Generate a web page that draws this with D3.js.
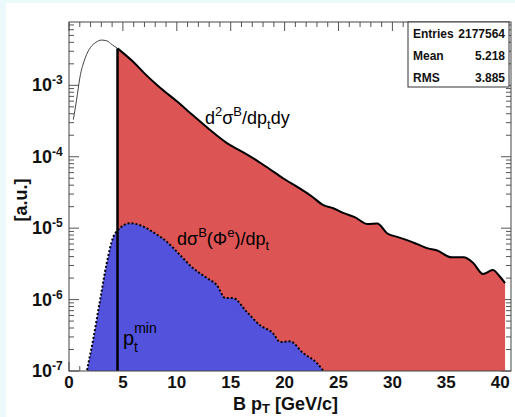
<!DOCTYPE html>
<html><head><meta charset="utf-8">
<script src="https://cdn.jsdelivr.net/npm/d3@7/dist/d3.min.js"></script>
<style>
html,body{margin:0;padding:0;background:#edfafc;}
svg{display:block;}
text{font-family:"Liberation Sans",Arial,Helvetica,sans-serif;}
</style></head>
<body>
<svg id="c" width="515" height="417"></svg>
<script>
// ---- data ----
const xTickValues = [0, 5, 10, 15, 20, 25, 30, 35, 40];
const yTickExponents = [-7, -6, -5, -4, -3];
const ptMin = 4.5;

// full spectrum (thin curve)
const fullX = [0.4, 0.7, 1.0, 1.5, 2.0, 2.5, 3.0, 3.5, 4.0, 4.5];
const fullY = [3.3e-4, 6.2e-4, 1.26e-3, 2.4e-3, 3.4e-3, 4.0e-3, 4.3e-3, 4.2e-3, 3.7e-3, 3.29e-3];

// d2sigma/dpt dy above pt_min (red)
const redX = [4.5, 6, 7, 8.4, 10, 11.5, 13, 14.65, 16, 17.4, 18.5, 19.85, 21.4, 22.5, 23.6, 24.5, 25.5, 26.5, 27.7, 28.6, 29.5, 30.5, 31.35, 32.3, 33.2, 34.1, 35.5, 36.6, 37.5, 38.4, 39.3, 40, 40.45];
const redY = [3.29e-3, 2.1e-3, 1.47e-3, 9.4e-4, 5.97e-4, 3.8e-4, 2.43e-4, 1.55e-4, 1.19e-4, 8.9e-5, 6.9e-5, 5.0e-5, 3.6e-5, 2.8e-5, 2.1e-5, 1.9e-5, 1.62e-5, 1.43e-5, 1.14e-5, 1.16e-5, 8.5e-6, 7.5e-6, 6.8e-6, 5.97e-6, 5.25e-6, 4.9e-6, 3.9e-6, 3.9e-6, 3.24e-6, 2.28e-6, 2.59e-6, 2.07e-6, 1.7e-6];

// dsigma(Phi^e)/dpt (blue)
const blueX = [1.5, 1.67, 2.23, 2.88, 3.5, 4.1, 4.55, 5.66, 6.6, 7.8, 9.1, 10.3, 11.5, 12.8, 13.7, 14.5, 15.2, 16.5, 17.7, 18.9, 19.6, 20.5, 21.7, 23.0, 23.6];
const blueY = [7e-8, 1.0e-7, 2.7e-7, 9.8e-7, 3.24e-6, 7.5e-6, 9.4e-6, 1.17e-5, 1.10e-5, 8.8e-6, 6.4e-6, 4.2e-6, 2.76e-6, 2.0e-6, 1.6e-6, 1.05e-6, 1.05e-6, 6.7e-7, 4.4e-7, 3.4e-7, 2.55e-7, 2.6e-7, 1.79e-7, 1.29e-7, 1.0e-7];

const statNames = ["Entries", "Mean", "RMS"];
const statValues = ["2177564", "5.218", "3.885"];

// ---- drawing ----
const svg = d3.select("#c");
const L = 69, R = 511, T = 22, B = 371;
const x = d3.scaleLinear().domain([0, 41]).range([L, R]);
const y = d3.scaleLog().domain([1e-7, 7.7e-3]).range([B, T]);

svg.append("rect").attr("x", 6).attr("y", 3).attr("width", 509).attr("height", 414).attr("fill", "#ffffff");
svg.append("defs").append("clipPath").attr("id", "clip")
  .append("rect").attr("x", L).attr("y", T).attr("width", R - L).attr("height", B - T);

const tickCol = "#555";
// x ticks (top and bottom)
const xMinor = d3.range(0, 41, 1);
const g = svg.append("g");
xMinor.forEach(v => {
  const len = (v % 5 === 0) ? 9 : 5;
  g.append("line").attr("x1", x(v)).attr("x2", x(v)).attr("y1", T).attr("y2", T + len).attr("stroke", tickCol);
  g.append("line").attr("x1", x(v)).attr("x2", x(v)).attr("y1", B).attr("y2", B - len).attr("stroke", tickCol);
});
// y ticks (left and right)
const yMinor = [];
for (let e = -7; e <= -3; e++) for (let m = 1; m <= 9; m++) { const v = m * Math.pow(10, e); if (v <= 7.7e-3) yMinor.push({v, major: m === 1}); }
yMinor.forEach(t => {
  const len = t.major ? 10 : 5;
  g.append("line").attr("x1", L).attr("x2", L + len).attr("y1", y(t.v)).attr("y2", y(t.v)).attr("stroke", tickCol);
  g.append("line").attr("x1", R).attr("x2", R - len).attr("y1", y(t.v)).attr("y2", y(t.v)).attr("stroke", tickCol);
});

const plot = svg.append("g").attr("clip-path", "url(#clip)");
const full = fullX.map((v, i) => [v, fullY[i]]);
const red = redX.map((v, i) => [v, redY[i]]);
const blue = blueX.map((v, i) => [v, blueY[i]]);

const line = d3.line().x(d => x(d[0])).y(d => y(d[1])).curve(d3.curveMonotoneX);
const area = d3.area().x(d => x(d[0])).y0(B).y1(d => y(d[1])).curve(d3.curveMonotoneX);

plot.append("path").datum(full).attr("d", line).attr("fill", "none").attr("stroke", "#444").attr("stroke-width", 1);
plot.append("path").datum(red).attr("d", area).attr("fill", "#dd5454");
plot.append("path").datum(blue).attr("d", area).attr("fill", "#5252dd");
plot.append("path").datum(red).attr("d", line).attr("fill", "none").attr("stroke", "#000").attr("stroke-width", 2);
plot.append("path").datum(blue).attr("d", line).attr("fill", "none").attr("stroke", "#000").attr("stroke-width", 2).attr("stroke-dasharray", "2,2");
plot.append("line").attr("x1", x(ptMin)).attr("x2", x(ptMin)).attr("y1", y(redY[0])).attr("y2", B).attr("stroke", "#000").attr("stroke-width", 2.5);

// frame
svg.append("rect").attr("x", L).attr("y", T).attr("width", R - L).attr("height", B - T)
  .attr("fill", "none").attr("stroke", "#444").attr("stroke-width", 1);

// x labels
svg.append("g").selectAll("text").data(xTickValues).join("text")
  .attr("x", d => x(d)).attr("y", 388).attr("text-anchor", "middle")
  .attr("font-weight", "bold").attr("font-size", 17).attr("fill", "#111").text(d => d);
// y labels
const yl = svg.append("g").selectAll("text").data(yTickExponents).join("text")
  .attr("x", 32).attr("y", d => y(Math.pow(10, d)) + 6)
  .attr("font-weight", "bold").attr("font-size", 18).attr("fill", "#111");
yl.append("tspan").text("10");
yl.append("tspan").attr("dy", -7).attr("font-size", 12).text(d => d);

// axis titles
const xt = svg.append("text").attr("x", 233).attr("y", 410).attr("font-weight", "bold").attr("font-size", 18).attr("fill", "#111");
xt.append("tspan").text("B p");
xt.append("tspan").attr("dy", 3).attr("font-size", 13).text("T");
xt.append("tspan").attr("dy", -3).text(" [GeV/c]");
svg.append("text").attr("transform", "translate(27,200) rotate(-90)").attr("text-anchor", "middle")
  .attr("font-weight", "bold").attr("font-size", 18).attr("fill", "#111").text("[a.u.]");

// curve labels
const l1 = svg.append("text").attr("x", 205).attr("y", 124).attr("font-size", 18).attr("fill", "#000");
l1.append("tspan").text("d");
l1.append("tspan").attr("dy", -8).attr("font-size", 13).text("2");
l1.append("tspan").attr("dy", 8).text("σ");
l1.append("tspan").attr("dy", -8).attr("font-size", 13).text("B");
l1.append("tspan").attr("dy", 8).text("/dp");
l1.append("tspan").attr("dy", 5).attr("font-size", 13).text("t");
l1.append("tspan").attr("dy", -5).text("dy");

const l2 = svg.append("text").attr("x", 177).attr("y", 245).attr("font-size", 18).attr("fill", "#000");
l2.append("tspan").text("dσ");
l2.append("tspan").attr("dy", -8).attr("font-size", 13).text("B");
l2.append("tspan").attr("dy", 8).text("(Φ");
l2.append("tspan").attr("dy", -8).attr("font-size", 13).text("e");
l2.append("tspan").attr("dy", 8).text(")/dp");
l2.append("tspan").attr("dy", 5).attr("font-size", 13).text("t");

const l3 = svg.append("text").attr("x", 123).attr("y", 345).attr("font-size", 20).attr("fill", "#000");
l3.append("tspan").text("p");
l3.append("tspan").attr("dy", -12).attr("font-size", 14).text("min");
l3.append("tspan").attr("x", 134).attr("dy", 19).attr("font-size", 14).text("t");

// stats box
const sb = svg.append("g");
sb.append("rect").attr("x", 408).attr("y", 22).attr("width", 101).attr("height", 65)
  .attr("fill", "#fff").attr("stroke", "#333").attr("stroke-width", 1);
statNames.forEach((n, i) => {
  sb.append("text").attr("x", 413).attr("y", 38 + i * 22).attr("font-weight", "bold").attr("font-size", 12).attr("fill", "#111").text(n);
  sb.append("text").attr("x", 505).attr("y", 38 + i * 22).attr("text-anchor", "end").attr("font-weight", "bold").attr("font-size", 12).attr("fill", "#111").text(statValues[i]);
});
</script>
</body></html>
